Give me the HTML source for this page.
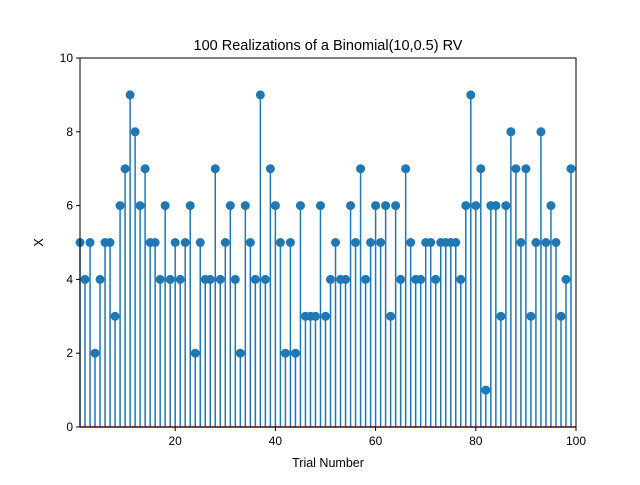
<!DOCTYPE html>
<html><head><meta charset="utf-8"><style>
body{margin:0;background:#fff;}
svg{font-family:"Liberation Sans","DejaVu Sans",sans-serif;}
</style></head><body>
<svg id="chart" width="640" height="480">
<g id="stems"></g>
<g id="axes"></g>
</svg>
<script>
const xValues = [];
for (let i = 1; i <= 99; i++) xValues.push(i);
const yValues = [5,4,5,2,4,5,5,3,6,7,9,8,6,7,5,5,4,6,4,5,4,5,6,2,5,4,4,7,4,5,6,4,2,6,5,4,9,4,7,6,5,2,5,2,6,3,3,3,6,3,4,5,4,4,6,5,7,4,5,6,5,6,3,6,4,7,5,4,4,5,5,4,5,5,5,5,4,6,9,6,7,1,6,6,3,6,8,7,5,7,3,5,8,5,6,5,3,4,7];
const xTicks = [20,40,60,80,100];
const yTicks = [0,2,4,6,8,10];
const L=80,R=576,T=58,B=427,xMin=1,xMax=100,yMin=0,yMax=10;
const sx=v=>L+(v-xMin)/(xMax-xMin)*(R-L);
const sy=v=>B-(v-yMin)/(yMax-yMin)*(B-T);
const NS="http://www.w3.org/2000/svg";
function mk(tag,attrs,parent){const e=document.createElementNS(NS,tag);for(const k in attrs)e.setAttribute(k,attrs[k]);parent.appendChild(e);return e;}
const stems=document.getElementById('stems'),axes=document.getElementById('axes');
xValues.forEach((x,i)=>{
  const l=mk('line',{x1:sx(x),x2:sx(x),y1:sy(0),y2:sy(yValues[i]),stroke:'#1f77b4','stroke-width':1.5},stems);
  
  
});
const base=mk('line',{x1:L,x2:R,y1:sy(0),y2:sy(0),stroke:'#d62728','stroke-width':1.5},stems);


xValues.forEach((x,i)=>{
  const c=mk('circle',{cx:sx(x),cy:sy(yValues[i]),r:4.5,fill:'#1f77b4'},stems);
  
  
});
const frame=mk('rect',{x:L,y:T,width:R-L,height:B-T,fill:'none',stroke:'#000','stroke-width':1},axes);


xTicks.forEach(t=>{
  mk('line',{x1:sx(t),x2:sx(t),y1:B,y2:B+4,stroke:'#000'},axes);
  const tx=mk('text',{x:sx(t),y:B+18,'text-anchor':'middle','font-size':12},axes);
  tx.textContent=t;
  
  
});
yTicks.forEach(t=>{
  mk('line',{x1:L-4,x2:L,y1:sy(t),y2:sy(t),stroke:'#000'},axes);
  const tx=mk('text',{x:L-7,y:sy(t)+4,'text-anchor':'end','font-size':12},axes);
  tx.textContent=t;
  
  
});
const title=mk('text',{x:(L+R)/2,y:50,'text-anchor':'middle','font-size':14.5},axes);
title.textContent='100 Realizations of a Binomial(10,0.5) RV';


const xl=mk('text',{x:(L+R)/2,y:467,'text-anchor':'middle','font-size':12.5},axes);
xl.textContent='Trial Number';


const yl=mk('text',{x:43,y:(T+B)/2,'text-anchor':'middle','font-size':12.5,transform:`rotate(-90 43 ${(T+B)/2})`},axes);
yl.textContent='X';


</script>
</body></html>
